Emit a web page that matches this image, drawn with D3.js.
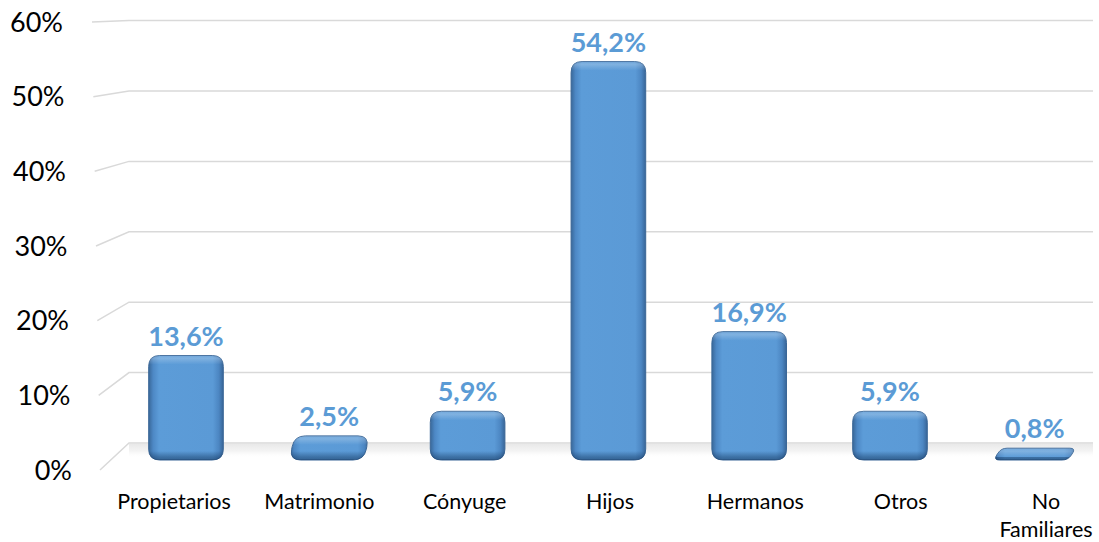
<!DOCTYPE html>
<html>
<head>
<meta charset="utf-8">
<script src="https://cdn.jsdelivr.net/npm/d3@7"></script>
<style>
  html, body { margin: 0; padding: 0; background: #ffffff; }
  svg { display: block; }
</style>
</head>
<body>
<svg id="chart" width="1099" height="542"></svg>
<script>
// Data
const categories = ["Propietarios", "Matrimonio", "Cónyuge", "Hijos", "Hermanos", "Otros", "No Familiares"];
const shares = [0.136, 0.025, 0.059, 0.542, 0.169, 0.059, 0.008];
const tickValues = [0, 0.1, 0.2, 0.3, 0.4, 0.5, 0.6];

const svg = d3.select("#chart");
const defs = svg.append("defs");

const es = d3.formatLocale({ decimal: ",", thousands: ".", grouping: [3], currency: ["", "€"] });
const fmtValue = es.format(".1%");
const fmtTick = es.format(".0%");

const yMax = 0.6;
// Three planes of the perspective box: front edge, back wall, bar plane
const yFront = d3.scaleLinear().domain([0, yMax]).range([470, 22]);
const yBack = d3.scaleLinear().domain([0, yMax]).range([443, 20.6]);
const yBar = d3.scaleLinear().domain([0, yMax]).range([460, 19.6]);
const xFront = d3.scaleLinear().domain([0, yMax]).range([100, 92]);
const xBackLeft = 129, xBackRight = 1093;

const xBar = d3.scaleBand().domain(categories).range([115.6, 1101.2])
  .paddingInner(0.47).paddingOuter(0.235);
const xLabel = d3.scalePoint().domain(categories).range([174, 1046]);

// Floor shading in front of the back wall
const floorGrad = defs.append("linearGradient").attr("id", "floor")
  .attr("x1", 0).attr("y1", 0).attr("x2", 0).attr("y2", 1);
floorGrad.append("stop").attr("offset", 0).attr("stop-color", "#e6e6e6").attr("stop-opacity", 0.9);
floorGrad.append("stop").attr("offset", 0.5).attr("stop-color", "#ececec").attr("stop-opacity", 0.6);
floorGrad.append("stop").attr("offset", 1).attr("stop-color", "#ffffff").attr("stop-opacity", 0);
svg.append("rect")
  .attr("x", xBackLeft).attr("y", yBack(0) + 1)
  .attr("width", xBackRight - xBackLeft).attr("height", 14)
  .attr("fill", "url(#floor)");

// Gridlines: short slanted side wall segment, then the back wall
const grid = svg.append("g");
grid.selectAll("path").data(tickValues).join("path")
  .attr("d", v => d3.line()([[xFront(v), yFront(v)], [xBackLeft, yBack(v)], [xBackRight, yBack(v)]]))
  .attr("fill", "none")
  .attr("stroke", "#d9d9d9")
  .attr("stroke-width", 1.5);

// Y tick labels on the front edge
svg.append("g").selectAll("text").data(tickValues).join("text")
  .attr("x", v => 72 - 15 * v)
  .attr("y", yFront)
  .attr("dy", "0.36em")
  .attr("text-anchor", "end")
  .attr("font-family", "Lato, 'Open Sans', sans-serif")
  .attr("font-size", 27)
  .attr("fill", "#000")
  .text(fmtTick);

// Rounded polygon path
function roundedPoly(pts, r) {
  const n = pts.length;
  let d = "";
  for (let i = 0; i < n; i++) {
    const p0 = pts[(i - 1 + n) % n], p1 = pts[i], p2 = pts[(i + 1) % n];
    const l1 = Math.hypot(p1[0] - p0[0], p1[1] - p0[1]);
    const l2 = Math.hypot(p2[0] - p1[0], p2[1] - p1[1]);
    const r1 = Math.min(r, l1 / 2), r2 = Math.min(r, l2 / 2);
    const a = [p1[0] + (p0[0] - p1[0]) * r1 / l1, p1[1] + (p0[1] - p1[1]) * r1 / l1];
    const b = [p1[0] + (p2[0] - p1[0]) * r2 / l2, p1[1] + (p2[1] - p1[1]) * r2 / l2];
    d += (i === 0 ? "M" : "L") + a[0] + "," + a[1] + "Q" + p1[0] + "," + p1[1] + " " + b[0] + "," + b[1];
  }
  return d + "Z";
}

// Bars
const base = yBar(0);
const bars = svg.append("g");
categories.forEach((c, i) => {
  const v = shares[i];
  const h = base - yBar(v);
  const depth = 6 * (1 - v / yMax);        // visible top face, larger on short bars
  const top = yBar(v) - depth;
  const skew = 9 * Math.max(0, 1 - h / 40); // only the flattest bars lean
  const x0 = xBar(c), x1 = x0 + xBar.bandwidth();
  const pts = [[x0, base], [x0 + skew, top], [x1 + skew, top], [x1, base]];
  const r = Math.min(11, (base - top) / 2);
  const d = roundedPoly(pts, r);

  const gh = defs.append("linearGradient").attr("id", "bh" + i)
    .attr("gradientUnits", "userSpaceOnUse")
    .attr("x1", x0).attr("x2", x1 + skew).attr("y1", 0).attr("y2", 0);
  [[0, "#396899"], [0.06, "#4d88c5"], [0.14, "#5c9cd8"], [0.86, "#5b9ad6"], [0.94, "#4c86c2"], [1, "#386597"]]
    .forEach(s => gh.append("stop").attr("offset", s[0]).attr("stop-color", s[1]));

  const hgt = base - top;
  const gv = defs.append("linearGradient").attr("id", "bv" + i)
    .attr("gradientUnits", "userSpaceOnUse")
    .attr("x1", 0).attr("x2", 0).attr("y1", top).attr("y2", base);
  const f = px => Math.max(0, Math.min(1, px / hgt));
  [[0, "#ffffff", 0.15], [f(3), "#ffffff", 0.22], [f(9), "#ffffff", 0.0],
   [Math.max(f(9), 1 - f(9)), "#0a2a50", 0.0], [1 - f(3), "#0a2a50", 0.38], [1, "#0a2a50", 0.5]]
    .forEach(s => gv.append("stop").attr("offset", s[0]).attr("stop-color", s[1]).attr("stop-opacity", s[2]));

  bars.append("path").attr("d", d).attr("fill", "url(#bh" + i + ")")
    .attr("stroke", "#3b6797").attr("stroke-width", 1);
  bars.append("path").attr("d", d).attr("fill", "url(#bv" + i + ")");

  // Value label
  bars.append("text")
    .attr("x", (x0 + x1) / 2 + skew / 2)
    .attr("y", top - 10)
    .attr("text-anchor", "middle")
    .attr("font-family", "Lato, 'Open Sans', sans-serif")
    .attr("font-weight", 700)
    .attr("font-size", 27)
    .attr("fill", "#5b9bd5")
    .text(fmtValue(v));
});

// Category labels, wrapped to two lines when too wide
const catG = svg.append("g");
categories.forEach(c => {
  const words = c.split(" ");
  const lines = (words.length > 1 && c.length > 12) ? words : [c];
  const t = catG.append("text")
    .attr("x", xLabel(c))
    .attr("y", 509)
    .attr("text-anchor", "middle")
    .attr("font-family", "Lato, 'Open Sans', sans-serif")
    .attr("font-size", 21.5)
    .attr("fill", "#000");
  lines.forEach((w, k) => t.append("tspan").attr("x", xLabel(c)).attr("dy", k === 0 ? 0 : 28).text(w));
});
</script>
</body>
</html>
